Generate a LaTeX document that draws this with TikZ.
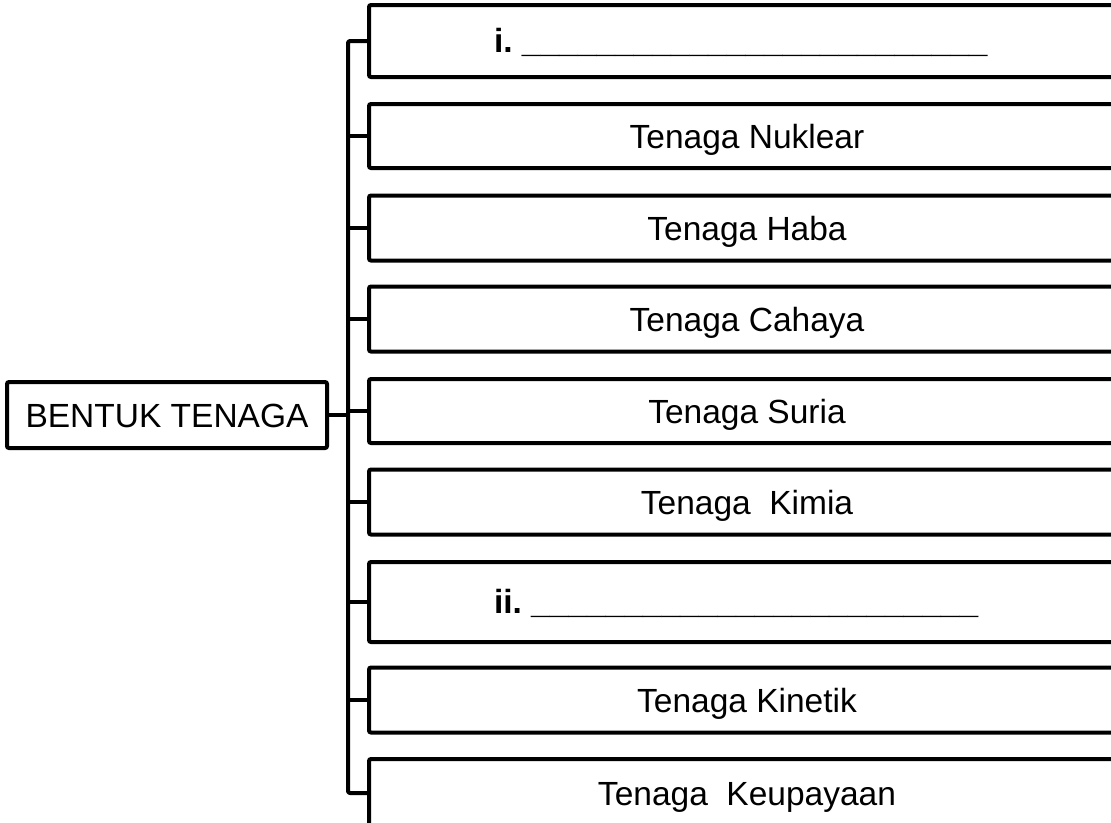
\documentclass[tikz,border=0pt]{standalone}
\usepackage{fontspec}
\setmainfont{Liberation Sans}
\begin{document}
\begin{tikzpicture}[x=1pt,y=-1pt,
  line width=4pt,
  txt/.style={font=\fontsize{33.5}{40}\selectfont,text height=24pt,text depth=0pt},
  box/.style={txt,draw,rounded corners=2pt,minimum width=756pt,inner sep=0pt,anchor=center},
  blank/.style={font=\fontsize{33.5}{40}\selectfont\bfseries,inner sep=0pt,anchor=base west},
  conn/.style={line width=4pt,line join=round}]
\useasboundingbox (0,0) rectangle (1111,822);
\clip (0,0) rectangle (1111,822);
\node[txt,draw,rounded corners=2pt,minimum width=320pt,minimum height=66pt,inner sep=0pt] (main) at (167,415) {BENTUK TENAGA};
\node[box,minimum height=72pt] (b1) at (747,41) {};
\node[box,minimum height=64pt] (b2) at (747,136) {Tenaga Nuklear};
\node[box,minimum height=65pt] (b3) at (747,228) {Tenaga Haba};
\node[box,minimum height=65pt] (b4) at (747,319) {Tenaga Cahaya};
\node[box,minimum height=64pt] (b5) at (747,411) {Tenaga Suria};
\node[box,minimum height=65pt] (b6) at (747,502) {Tenaga\ \ Kimia};
\node[box,minimum height=80pt] (b7) at (747,602) {};
\node[box,minimum height=65pt] (b8) at (747,700) {Tenaga Kinetik};
\node[box,minimum height=68pt] (b9) at (747,793) {Tenaga\ \ Keupayaan};
\node[blank] (l1) at (492,52) {i.\ \_\_\_\_\_\_\_\_\_\_\_\_\_\_\_\_\_\_\_\_\_\_\_\_\_};
\node[blank] (l7) at (492,613) {ii.\ \_\_\_\_\_\_\_\_\_\_\_\_\_\_\_\_\_\_\_\_\_\_\_\_};
\coordinate (brx) at (348,0);
\draw[conn,rounded corners=2pt] (b1.west) -- (b1.west -| brx) -- (b9.west -| brx) -- (b9.west);
\foreach \b in {b2,b3,b4,b5,b6,b7,b8}{
  \draw[conn] (\b.west) -- (\b.west -| brx);
}
\draw[conn] (main.east) -- (main.east -| brx);
\end{tikzpicture}
\end{document}
